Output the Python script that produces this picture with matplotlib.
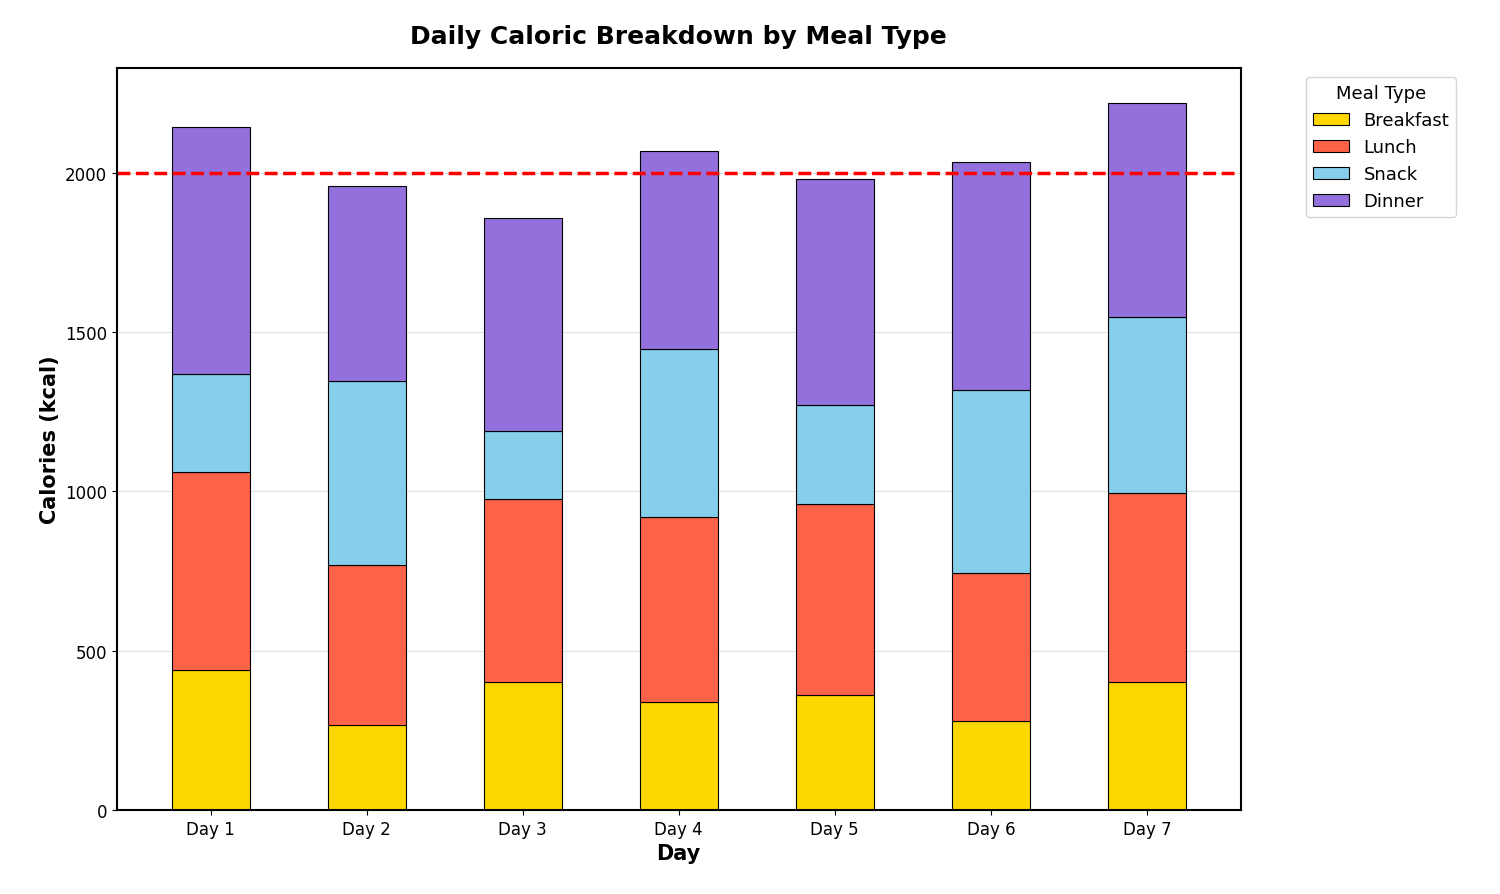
import numpy as np
from matplotlib import pyplot as plt

days = ["Day 1", "Day 2", "Day 3", "Day 4", "Day 5", "Day 6", "Day 7"]
breakfast = [440, 265, 400, 340, 360, 280, 400]
lunch = [620, 505, 575, 580, 600, 465, 595]
snack = [310, 578, 215, 527, 310, 575, 553]
dinner = [776, 610, 670, 622, 712, 715, 672]
target = 2000

meals = [("Breakfast", breakfast, "#FFD700"),
         ("Lunch", lunch, "#FF6347"),
         ("Snack", snack, "#87CEEB"),
         ("Dinner", dinner, "#9370DB")]

fig = plt.figure(figsize=(15, 8.95), dpi=100)
ax = fig.add_axes([0.078, 0.094, 0.749, 0.829])

x = np.arange(len(days))
bottom = np.zeros(len(days))
for name, vals, col in meals:
    ax.bar(x, vals, 0.5, bottom=bottom, color=col, edgecolor="black", linewidth=0.8, label=name)
    bottom += np.array(vals)

ax.axhline(target, color="red", linestyle="--", linewidth=2.5)
ax.set_xticks(x)
ax.set_xticklabels(days, fontsize=12)
ax.tick_params(axis="y", labelsize=12)
ax.set_xlabel("Day", fontsize=15, fontweight="bold")
ax.set_ylabel("Calories (kcal)", fontsize=15, fontweight="bold")
ax.set_title("Daily Caloric Breakdown by Meal Type", fontsize=18, fontweight="bold", pad=18)
ax.yaxis.grid(True, alpha=0.35)
ax.set_axisbelow(True)
ax.set_xlim(-0.6, 6.6)
ax.set_ylim(0, 2330)
for s in ax.spines.values():
    s.set_linewidth(1.5)
ax.legend(title="Meal Type", loc="upper left", bbox_to_anchor=(1.05, 1.0), fontsize=13, title_fontsize=13)

fig.savefig("out.png", dpi=100)
